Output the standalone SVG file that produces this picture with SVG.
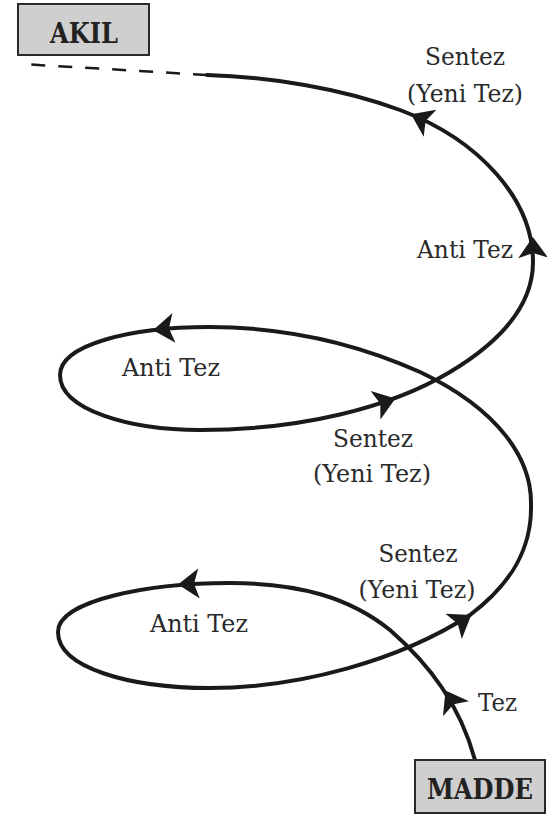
<svg xmlns="http://www.w3.org/2000/svg" xmlns:xlink="http://www.w3.org/1999/xlink" width="547" height="814" viewBox="0 0 547 814">
<style>
.box{fill:#cfcfcf;stroke:#2a2a2a;stroke-width:2}
.boxlabel{font-family:"DejaVu Serif","Liberation Serif",serif;font-weight:bold;font-size:27px;fill:#222;text-anchor:middle}
.lbl{font-family:"DejaVu Serif","Liberation Serif",serif;font-size:25px;fill:#2a2a2a}
.mid{text-anchor:middle}
.end{text-anchor:end}
.curve{fill:none;stroke:#1a1a1a;stroke-width:4;stroke-linecap:round}
.dash{fill:none;stroke:#1a1a1a;stroke-width:2.5;stroke-dasharray:14 13}
.ah{fill:#1a1a1a}
</style>
<defs>
<path id="arrow" d="M11,0 L-10,-15 L-5,0 L-10,15 Z"/>
</defs>
<rect width="547" height="814" fill="#ffffff"/>
<g id="connectors">
<path class="dash" d="M207,75 L22,64"/>
<path class="curve" d="M475,760 C460,705 430,665 390,630 C350,598 300,583 230,583 C150,583 58,600 58,632 C58,668 130,688 210,688 C300,688 400,660 470,615 C510,585 532,550 531,505 C532,460 500,410 420,372 C360,345 290,327 209,327 C130,327 60,345 60,375 C60,410 130,430 200,430 C300,430 390,408 450,372 C500,342 533,305 533,262 C533,200 480,140 400,110 C340,88 270,77 207,75"/>
<use xlink:href="#arrow" class="ah" transform="translate(451,700) rotate(-120)"/>
<use xlink:href="#arrow" class="ah" transform="translate(189,584) rotate(177)"/>
<use xlink:href="#arrow" class="ah" transform="translate(462,621) rotate(-33)"/>
<use xlink:href="#arrow" class="ah" transform="translate(164,329) rotate(174)"/>
<use xlink:href="#arrow" class="ah" transform="translate(385,402) rotate(-19)"/>
<use xlink:href="#arrow" class="ah" transform="translate(533,248) rotate(-91)"/>
<use xlink:href="#arrow" class="ah" transform="translate(421,119) rotate(-155)"/>
</g>
<g id="node-akil">
<rect class="box" x="18" y="4" width="131" height="51"/>
<text class="boxlabel" x="84" y="43" textLength="68" lengthAdjust="spacingAndGlyphs">AKIL</text>
</g>
<g id="node-madde">
<rect class="box" x="415" y="760" width="130" height="53"/>
<text class="boxlabel" x="480" y="799" textLength="106" lengthAdjust="spacingAndGlyphs">MADDE</text>
</g>
<g id="labels">
<text class="lbl mid" x="465" y="65" textLength="80" lengthAdjust="spacingAndGlyphs">Sentez</text>
<text class="lbl mid" x="465" y="102" textLength="116" lengthAdjust="spacingAndGlyphs">(Yeni Tez)</text>
<text class="lbl end" x="513" y="258" textLength="96" lengthAdjust="spacingAndGlyphs">Anti Tez</text>
<text class="lbl" x="122" y="376" textLength="98" lengthAdjust="spacingAndGlyphs">Anti Tez</text>
<text class="lbl mid" x="373" y="447" textLength="80" lengthAdjust="spacingAndGlyphs">Sentez</text>
<text class="lbl mid" x="372" y="482" textLength="118" lengthAdjust="spacingAndGlyphs">(Yeni Tez)</text>
<text class="lbl mid" x="418" y="562" textLength="79" lengthAdjust="spacingAndGlyphs">Sentez</text>
<text class="lbl mid" x="417" y="598" textLength="117" lengthAdjust="spacingAndGlyphs">(Yeni Tez)</text>
<text class="lbl" x="150" y="632" textLength="98" lengthAdjust="spacingAndGlyphs">Anti Tez</text>
<text class="lbl" x="478" y="711" textLength="39" lengthAdjust="spacingAndGlyphs">Tez</text>
</g>
</svg>
